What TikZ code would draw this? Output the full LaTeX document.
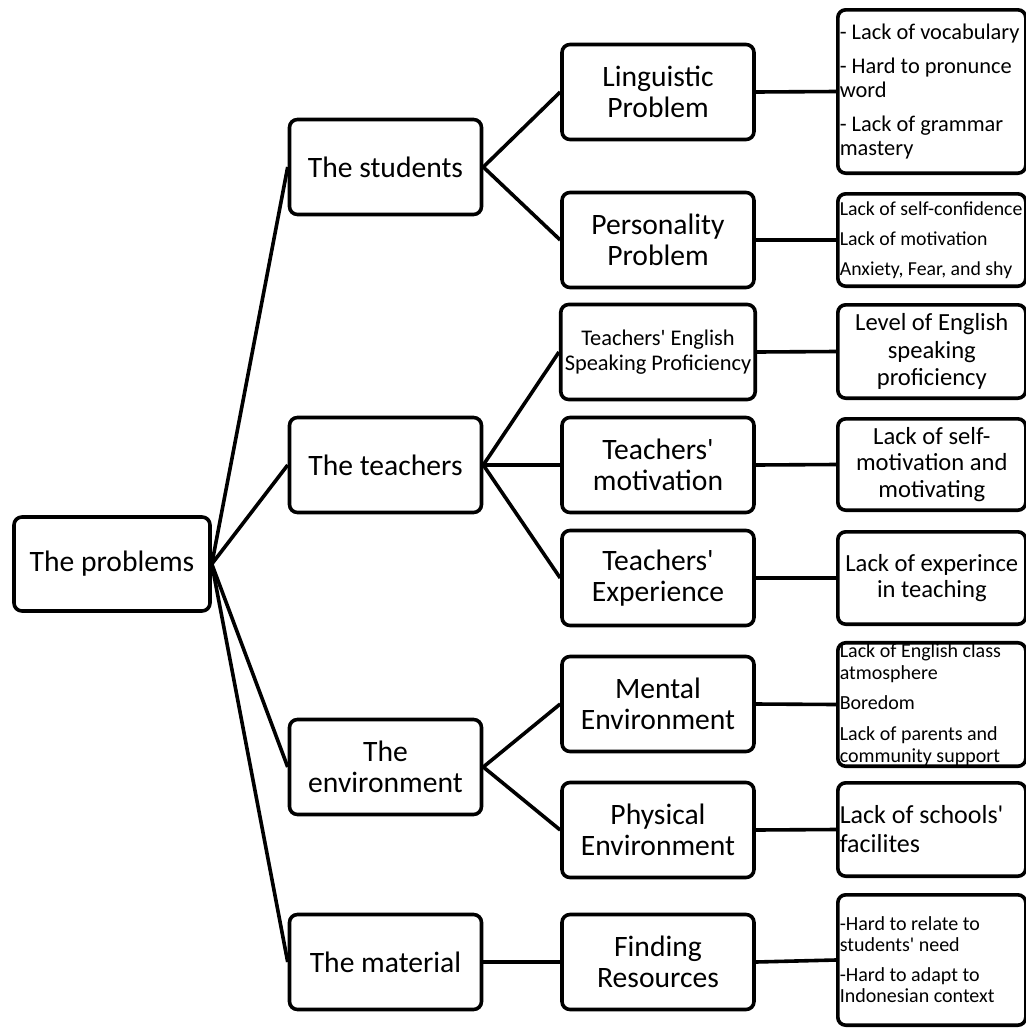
\documentclass[tikz,border=0pt]{standalone}
\usepackage{fontspec}
\setmainfont{Carlito}
\usepackage{tikz}

\newcommand{\nhay}{\textquotesingle}

\tikzset{
	hop/.style={draw, line width=1.8pt, rounded corners=4pt, align=center, inner sep=2pt,
		minimum width=96pt, minimum height=47.5pt, font=\fontsize{14.8}{15.8}\selectfont},
	hopnho/.style={draw, line width=1.8pt, rounded corners=4pt, inner xsep=1pt, inner ysep=0.5pt,
		text width=92pt, minimum height=#1}
}

\begin{document}
\begin{tikzpicture}[x=0.5pt,y=-0.5pt,line width=1.8pt]
			\useasboundingbox (0,0) rectangle (1026,1029);
			% Vẽ gốc và nhánh cấp 1
			\node[hop, minimum width=98pt, minimum height=47pt] (pb) at (112,564) {The problems};
			\node[hop] (st) at (385.5,167) {The students};
			\node[hop] (te) at (385.5,465) {The teachers};
			\node[hop] (en) at (385.5,767) {The\\environment};
			\node[hop] (ma) at (385.5,962) {The material};
			% Vẽ nhánh cấp 2
			\node[hop, font=\fontsize{14.8}{15.5}\selectfont] (li) at (658,92) {Linguistic\\Problem};
			\node[hop, font=\fontsize{14.8}{15.5}\selectfont] (pe) at (658,240) {Personality\\Problem};
			\node[hop, font=\fontsize{11.2}{12.5}\selectfont] (tp) at (658,352) {Teachers\nhay{} English\\Speaking Proficiency};
			\node[hop, font=\fontsize{14.8}{15.5}\selectfont] (tm) at (658,465) {Teachers\nhay\\motivation};
			\node[hop, font=\fontsize{14.8}{15.5}\selectfont] (tx) at (658,578) {Teachers\nhay\\Experience};
			\node[hop, font=\fontsize{14.8}{15.5}\selectfont] (me) at (658,704) {Mental\\Environment};
			\node[hop, font=\fontsize{14.8}{15.5}\selectfont] (ph) at (658,830) {Physical\\Environment};
			\node[hop, font=\fontsize{14.8}{15.5}\selectfont] (fi) at (658,962) {Finding\\Resources};
			% Vẽ các hộp chi tiết
			\node[hopnho=81.7pt, align=flush left, font=\fontsize{11.2}{12}\selectfont] (rli) at (931.8,91.5) {- Lack of vocabulary\\[5pt]- Hard to pronunce\\word\\[5pt]- Lack of grammar\\mastery};
			\node[hopnho=46.2pt, align=flush left, font=\fontsize{9.9}{15}\selectfont] (rpe) at (931.8,240) {Lack of self-confidence\\Lack of motivation\\Anxiety, Fear, and shy};
			\node[hopnho=46.7pt, align=flush center, font=\fontsize{12.3}{13.8}\selectfont] (rtp) at (931.8,351.5) {Level of English\\speaking\\proficiency};
			\node[hopnho=45.7pt, align=flush center, font=\fontsize{12.3}{13.3}\selectfont] (rtm) at (931.8,464.5) {Lack of self-\\motivation and\\motivating};
			\node[hopnho=46.2pt, align=flush center, font=\fontsize{12.3}{13}\selectfont] (rtx) at (931.8,578) {Lack of experince\\in teaching};
			\node[hopnho=61.7pt, align=flush left, font=\fontsize{10}{10.8}\selectfont] (rme) at (931.8,704.5) {Lack of English class\\atmosphere\\[4.5pt]Boredom\\[4.5pt]Lack of parents and\\community support};
			\node[hopnho=46.7pt, align=flush left, font=\fontsize{13}{14.5}\selectfont] (rph) at (931.8,829.5) {Lack of schools\nhay\\facilites};
			\node[hopnho=65.2pt, align=flush left, font=\fontsize{10}{10.5}\selectfont] (rfi) at (931.8,960) {-Hard to relate to\\students\nhay{} need\\[4.5pt]-Hard to adapt to\\Indonesian context};
			% Vẽ đường nối
			\foreach \a in {st,te,en,ma}
			\draw (pb.east) -- (\a.west);
			\foreach \a/\b in {st/li,st/pe,te/tp,te/tm,te/tx,en/me,en/ph,ma/fi}
			\draw (\a.east) -- (\b.west);
			\foreach \b in {li,pe,tp,tm,tx,me,ph,fi}
			\draw (\b.east) -- (r\b.west);
		\end{tikzpicture}
\end{document}
